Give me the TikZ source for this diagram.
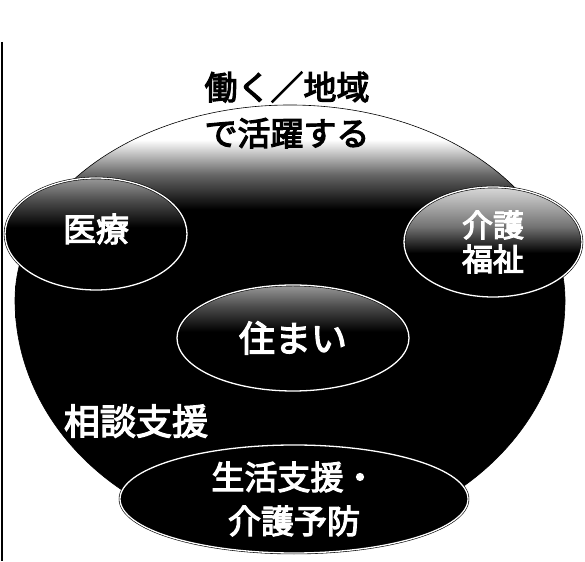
\documentclass[tikz,border=0pt]{standalone}
\usepackage{fontspec}
\newfontfamily\jp{Noto Sans CJK JP}[AutoFakeBold=3.5]
\usetikzlibrary{shapes.geometric}

\pgfdeclareverticalshading{globeshade}{100bp}{color(0bp)=(black); color(63bp)=(black); color(67bp)=(black!60); color(71bp)=(white); color(100bp)=(white)}
\pgfdeclareverticalshading{ovalshade}{100bp}{color(0bp)=(black); color(53bp)=(black); color(65bp)=(black!70); color(75bp)=(black!40); color(100bp)=(black!40)}
\pgfdeclareverticalshading{ovalshadelight}{100bp}{color(0bp)=(black); color(45bp)=(black); color(57bp)=(black!55); color(75bp)=(black!15); color(100bp)=(black!15)}

\begin{document}
\begin{tikzpicture}[x=1pt, y=1pt,
	oval/.style={ellipse, inner sep=0pt, draw=black, line width=0.6pt, double=white, double distance=1.3pt, fill=black},
	shaded oval/.style={oval, shade, shading=ovalshade},
	light oval/.style={oval, shade, shading=ovalshadelight},
	white label/.style={font=\jp\bfseries\fontsize{33}{44}\selectfont, text=white, align=center},
	black label/.style={font=\jp\bfseries\fontsize{33}{46}\selectfont, text=black, align=center}]
	\useasboundingbox (0,0) rectangle (585,561);

	% page edge
	\draw[line width=2pt] (2,519) -- (2,0);

	% globe
	\shade[shading=globeshade, draw=black, line width=0.6pt] (15,261)
		arc[start angle=180, end angle=0, x radius=275, y radius=195]
		arc[start angle=0, end angle=-180, x radius=275, y radius=240] -- cycle;
	\node[black label] (work) at (287,451) {働く／地域\\で活躍する};

	% ovals
	\node[shaded oval, minimum width=182pt, minimum height=112pt] (medical) at (96,327) {};
	\node[light oval, minimum width=178pt, minimum height=110pt] (care) at (493,319) {};
	\node[shaded oval, minimum width=232pt, minimum height=106pt] (home) at (293,223) {};
	\node[oval, minimum width=348pt, minimum height=108pt] (daily) at (294,62) {};

	% labels
	\node[white label, yshift=5pt] at (medical) {医療};
	\node[white label, font=\jp\bfseries\fontsize{31}{34}\selectfont] at (care) {介護\\福祉};
	\node[white label, font=\jp\bfseries\fontsize{36}{44}\selectfont] at (home) {住まい};
	\node[white label, font=\jp\bfseries\fontsize{36}{44}\selectfont] (consult) at (136,140) {相談支援};
	\node[white label] at (daily) {生活支援・\\介護予防};
\end{tikzpicture}
\end{document}
